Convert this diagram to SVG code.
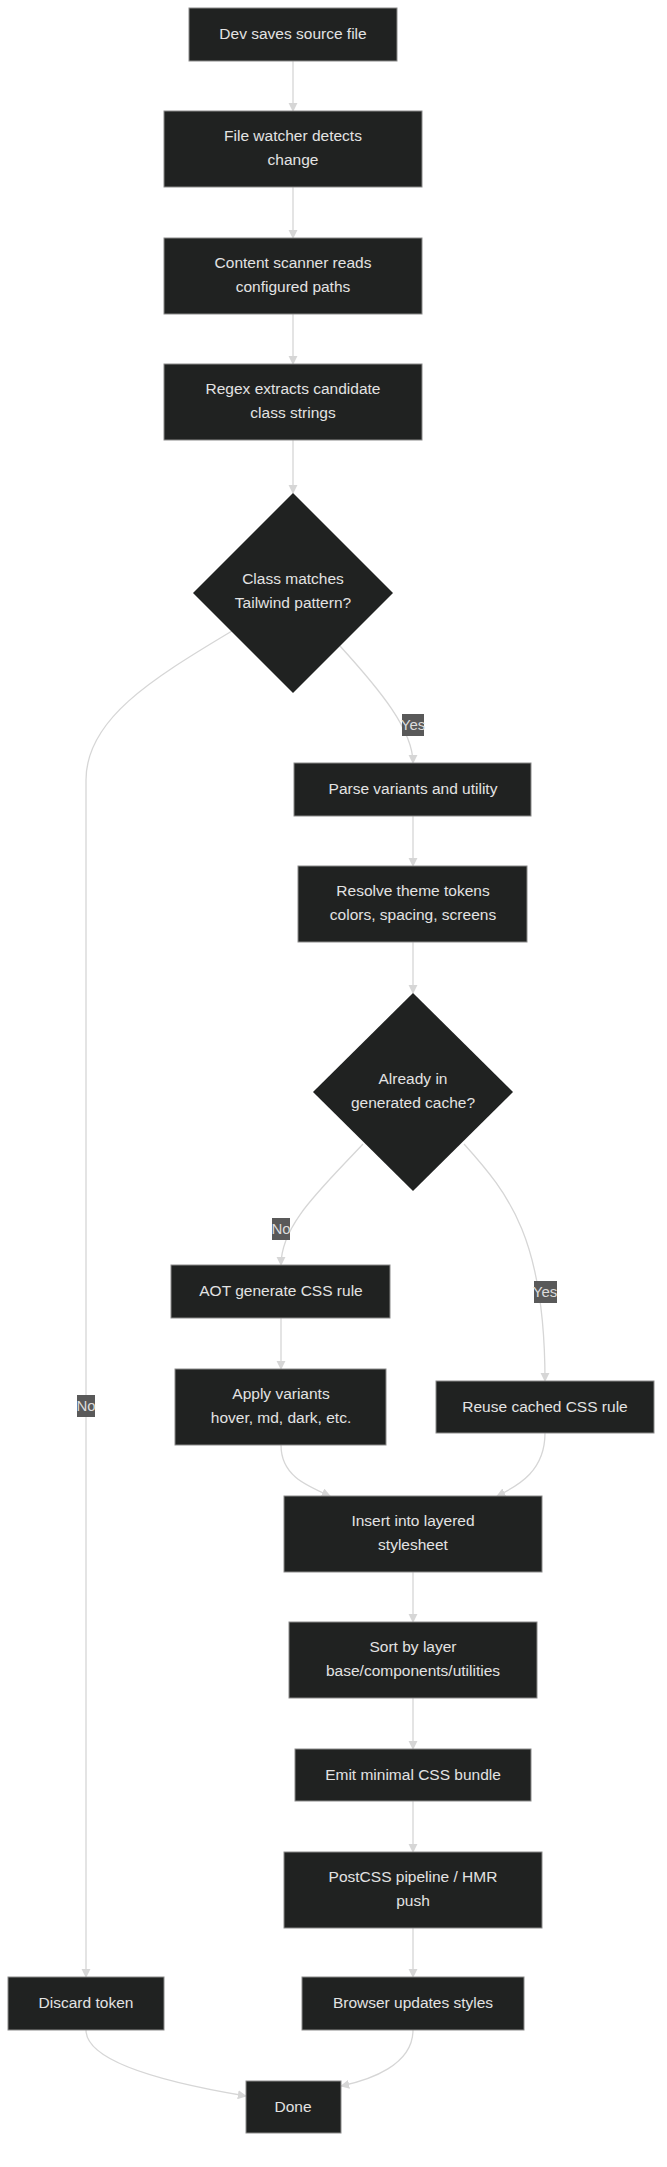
<svg xmlns="http://www.w3.org/2000/svg" width="667" height="2167" viewBox="0 0 667 2167">
<style>
.n{fill:#202221;stroke:#8a8a8a;stroke-width:1}
.t{font-family:"Liberation Sans",Arial,sans-serif;font-size:15.5px;fill:#e3e3e3;text-anchor:middle;dominant-baseline:middle}
.e{fill:none;stroke:#d6d6d6;stroke-width:1.3}
.lb{fill:#595959}
.lt{font-family:"Liberation Sans",Arial,sans-serif;font-size:15px;fill:#dcdcdc;text-anchor:middle;dominant-baseline:middle}
</style>
<defs><marker id="a" viewBox="0 0 10 10" refX="9" refY="5" markerWidth="7" markerHeight="7" orient="auto"><path d="M0,0L10,5L0,10z" fill="#d6d6d6"/></marker></defs>
<rect width="667" height="2167" fill="#fff"/>
<g id="edges">
<path class="e" marker-end="url(#a)" d="M293,61V111"/>
<path class="e" marker-end="url(#a)" d="M293,187V238"/>
<path class="e" marker-end="url(#a)" d="M293,314V364"/>
<path class="e" marker-end="url(#a)" d="M293,440V493"/>
<path class="e" marker-end="url(#a)" d="M232,631C150,680 86,720 86,780V1977"/>
<path class="e" marker-end="url(#a)" d="M340,646C380,690 413,730 413,763"/>
<path class="e" marker-end="url(#a)" d="M413,816V866"/>
<path class="e" marker-end="url(#a)" d="M413,942V993"/>
<path class="e" marker-end="url(#a)" d="M363,1144C320,1190 281,1225 281,1265"/>
<path class="e" marker-end="url(#a)" d="M464,1144C510,1195 545,1240 545,1381"/>
<path class="e" marker-end="url(#a)" d="M281,1318V1369"/>
<path class="e" marker-end="url(#a)" d="M281,1445C281,1475 305,1485 330,1496"/>
<path class="e" marker-end="url(#a)" d="M545,1433C545,1470 520,1485 497,1496"/>
<path class="e" marker-end="url(#a)" d="M413,1572V1622"/>
<path class="e" marker-end="url(#a)" d="M413,1698V1749"/>
<path class="e" marker-end="url(#a)" d="M413,1801V1852"/>
<path class="e" marker-end="url(#a)" d="M413,1928V1977"/>
<path class="e" marker-end="url(#a)" d="M86,2030C86,2065 180,2085 246,2096"/>
<path class="e" marker-end="url(#a)" d="M413,2030C413,2065 370,2080 341,2086"/>
<rect class="lb" x="402" y="714" width="22" height="22"/><text class="lt" x="413" y="726">Yes</text>
<rect class="lb" x="272" y="1218" width="18" height="22"/><text class="lt" x="281" y="1230">No</text>
<rect class="lb" x="534" y="1281" width="23" height="22"/><text class="lt" x="545" y="1293">Yes</text>
<rect class="lb" x="77" y="1395" width="18" height="22"/><text class="lt" x="86" y="1407">No</text>
</g>
<g id="n1"><rect class="n" x="189" y="8" width="208" height="53"/><text class="t" x="293" y="35">Dev saves source file</text></g>
<g id="n2"><rect class="n" x="164" y="111" width="258" height="76"/><text class="t" x="293" y="137">File watcher detects</text><text class="t" x="293" y="161">change</text></g>
<g id="n3"><rect class="n" x="164" y="238" width="258" height="76"/><text class="t" x="293" y="264">Content scanner reads</text><text class="t" x="293" y="288">configured paths</text></g>
<g id="n4"><rect class="n" x="164" y="364" width="258" height="76"/><text class="t" x="293" y="390">Regex extracts candidate</text><text class="t" x="293" y="414">class strings</text></g>
<g id="d1"><polygon class="n" points="293,493 393,593 293,693 193,593" style="stroke:none"/><text class="t" x="293" y="580">Class matches</text><text class="t" x="293" y="604">Tailwind pattern?</text></g>
<g id="n5"><rect class="n" x="294" y="763" width="237" height="53"/><text class="t" x="413" y="790">Parse variants and utility</text></g>
<g id="n6"><rect class="n" x="298" y="866" width="229" height="76"/><text class="t" x="413" y="892">Resolve theme tokens</text><text class="t" x="413" y="916">colors, spacing, screens</text></g>
<g id="d2"><polygon class="n" points="413,993 513,1092 413,1191 313,1092" style="stroke:none"/><text class="t" x="413" y="1080">Already in</text><text class="t" x="413" y="1104">generated cache?</text></g>
<g id="n7"><rect class="n" x="171" y="1265" width="219" height="53"/><text class="t" x="281" y="1292">AOT generate CSS rule</text></g>
<g id="n8"><rect class="n" x="175" y="1369" width="211" height="76"/><text class="t" x="281" y="1395">Apply variants</text><text class="t" x="281" y="1419">hover, md, dark, etc.</text></g>
<g id="n9"><rect class="n" x="436" y="1381" width="218" height="52"/><text class="t" x="545" y="1408">Reuse cached CSS rule</text></g>
<g id="n10"><rect class="n" x="284" y="1496" width="258" height="76"/><text class="t" x="413" y="1522">Insert into layered</text><text class="t" x="413" y="1546">stylesheet</text></g>
<g id="n11"><rect class="n" x="289" y="1622" width="248" height="76"/><text class="t" x="413" y="1648">Sort by layer</text><text class="t" x="413" y="1672">base/components/utilities</text></g>
<g id="n12"><rect class="n" x="295" y="1749" width="236" height="52"/><text class="t" x="413" y="1776">Emit minimal CSS bundle</text></g>
<g id="n13"><rect class="n" x="284" y="1852" width="258" height="76"/><text class="t" x="413" y="1878">PostCSS pipeline / HMR</text><text class="t" x="413" y="1902">push</text></g>
<g id="n14"><rect class="n" x="8" y="1977" width="156" height="53"/><text class="t" x="86" y="2004">Discard token</text></g>
<g id="n15"><rect class="n" x="302" y="1977" width="222" height="53"/><text class="t" x="413" y="2004">Browser updates styles</text></g>
<g id="n16"><rect class="n" x="246" y="2081" width="95" height="52"/><text class="t" x="293" y="2108">Done</text></g>
</svg>
